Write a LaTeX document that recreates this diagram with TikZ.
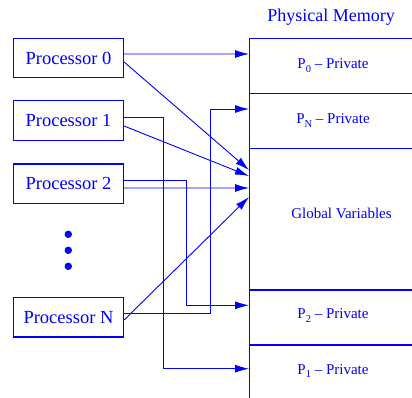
\documentclass[tikz,border=0pt]{standalone}
\usepackage{fontspec}
\setmainfont[Ligatures=TeX]{Liberation Serif}
\newfontfamily\serifx[Ligatures=TeX]{Liberation Serif}
\usetikzlibrary{arrows.meta}
\definecolor{pblue}{RGB}{0,0,255}
\newcommand\msub[1]{\raisebox{-3.8bp}{\fontsize{10.5bp}{10.5bp}\selectfont #1}}
\tikzset{
  proc/.style={draw=pblue, line width=1.2bp, minimum width=110bp, minimum height=39.5bp, inner sep=0pt,
    text=pblue, font=\serifx\fontsize{18.5bp}{22bp}\selectfont},
  memlabel/.style={text=pblue, inner sep=0pt, font=\serifx\fontsize{15bp}{18bp}\selectfont},
  memline/.style={draw=pblue, line width=1.4bp},
  conn/.style={draw=pblue, line width=0.9bp, -{Latex[length=14bp,width=8bp]}},
  dotn/.style={circle, fill=pblue, inner sep=0pt, minimum size=7.4bp}
}
\begin{document}
\begin{tikzpicture}[x=1bp,y=-1bp]
\useasboundingbox (0,0) rectangle (412,398);
% title
\node[text=pblue, font=\serifx\fontsize{18bp}{22bp}\selectfont] (title) at (331,17) {Physical Memory};
% processors
\node[proc] (p0) at (68.5,58) {Processor 0};
\node[proc] (p1) at (68.5,120.5) {Processor 1};
\node[proc] (p2) at (68.5,183.7) {Processor 2};
\node[proc] (pN) at (68.5,317.2) {Processor N};
\node[dotn] (d1) at (68.3,234.3) {};
\node[dotn] (d2) at (68.3,250.3) {};
\node[dotn] (d3) at (68.3,266.3) {};
% memory
\draw[memline] (249.3,38.3) -- (249.3,398);
\draw[memline] (249.3,38.3) -- (412,38.3);
\draw[memline] (249.3,93.3) -- (412,93.3);
\draw[memline] (249.3,148.3) -- (412,148.3);
\draw[memline] (249.3,290) -- (412,290);
\draw[memline] (249.3,345) -- (412,345);
\node[memlabel] (m0) at (333,65.5) {P\msub{0} – Private};
\node[memlabel] (mN) at (333,120.5) {P\msub{N} – Private};
\node[memlabel] (mg) at (341.5,213) {Global Variables};
\node[memlabel] (m2) at (333,315.5) {P\msub{2} – Private};
\node[memlabel] (m1) at (333,371) {P\msub{1} – Private};
% arrow targets on memory edge
\coordinate (t0) at (249,54);
\coordinate (tN) at (249,109);
\coordinate (tg0) at (249,170);
\coordinate (tg1) at (249,176);
\coordinate (tg2) at (249,188);
\coordinate (tgN) at (249,197);
\coordinate (t2) at (249,305.3);
\coordinate (t1) at (249,368.7);
% connectors
\draw[conn] ([yshift=4bp]p0.east) -- (t0);
\draw[conn] ([yshift=-4bp]p0.east) -- (tg0);
\draw[conn] ([yshift=3.5bp]p1.east) -- ++(39.2,0) |- (t1);
\draw[conn] ([yshift=-5.5bp]p1.east) -- (tg1);
\draw[conn] ([yshift=3.7bp]p2.east) -- ++(62.5,0) |- (t2);
\draw[conn] ([yshift=-4.3bp]p2.east) -- (tg2);
\draw[conn] ([yshift=3.9bp]pN.east) -- ++(86.5,0) |- (tN);
\draw[conn] ([yshift=-2.8bp]pN.east) -- (tgN);
\end{tikzpicture}
\end{document}
